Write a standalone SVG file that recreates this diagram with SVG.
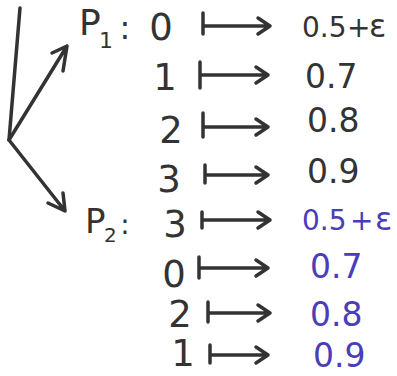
<svg xmlns="http://www.w3.org/2000/svg" width="397" height="376" viewBox="0 0 397 376">
<style>
.ln{fill:none;stroke:#333;stroke-width:3.5;stroke-linecap:round;stroke-linejoin:round}
.t{font-family:"DejaVu Sans","Liberation Sans",sans-serif;fill:#333}
.d{font-size:37px;text-anchor:middle}
.v{font-size:33px}
.s{font-size:28px}
.e{font-size:32px}
.p{fill:#4a3db8}
</style>
<rect width="397" height="376" fill="#fff"/>
<g id="connectors">
<path class="ln" d="M20 8 L9 140"/>
<path class="ln" d="M9 140 L67 46 M52 53 L67 46 L63 71"/>
<path class="ln" d="M9 140 L65 211 M48 203 L65 211 L63 193"/>
<path class="ln" d="M203 13 V34 M203 26 H270 M258 18 L270 26 L258 34"/>
<path class="ln" d="M200 62 V88 M200 75 H268 M256 67 L268 75 L256 83"/>
<path class="ln" d="M203 113 V137 M203 127 H268 M256 119 L268 127 L256 135"/>
<path class="ln" d="M205 165 V183 M205 175 H268 M256 167 L268 175 L256 183"/>
<path class="ln" d="M202 212 V228 M202 220 H270 M258 212 L270 220 L258 228"/>
<path class="ln" d="M199 257 V278 M199 268 H268 M256 260 L268 268 L256 276"/>
<path class="ln" d="M208 302 V322 M208 313 H270 M258 305 L270 313 L258 321"/>
<path class="ln" d="M210 345 V363 M210 355 H268 M256 347 L268 355 L256 363"/>
</g>
<g id="P1" class="t"><text x="79" y="35" font-size="36">P</text><text x="99" y="48" font-size="22">1</text><text x="125" y="39" font-size="32" text-anchor="middle">:</text></g>
<g id="P2" class="t"><text x="85" y="233" font-size="34">P</text><text x="104" y="242" font-size="20">2</text><text x="125" y="234" font-size="28" text-anchor="middle">:</text></g>
<g id="k1" class="t d"><text x="161" y="40">0</text></g>
<g id="k2" class="t d"><text x="165" y="90">1</text></g>
<g id="k3" class="t d"><text x="171" y="143">2</text></g>
<g id="k4" class="t d"><text x="169" y="192">3</text></g>
<g id="k5" class="t d"><text x="175" y="237">3</text></g>
<g id="k6" class="t d"><text x="174" y="287">0</text></g>
<g id="k7" class="t d"><text x="180" y="327">2</text></g>
<g id="k8" class="t d"><text x="183" y="366">1</text></g>
<g id="v1" class="t s"><text y="37"><tspan x="302">0.5</tspan><tspan x="347">+</tspan><tspan x="369" class="e">ε</tspan></text></g>
<g id="v2" class="t v"><text x="305" y="88">0.7</text></g>
<g id="v3" class="t v"><text x="307" y="132">0.8</text></g>
<g id="v4" class="t v"><text x="307" y="183">0.9</text></g>
<g id="v5" class="t s p"><text y="230"><tspan x="302">0.5</tspan><tspan x="350">+</tspan><tspan x="375" class="e">ε</tspan></text></g>
<g id="v6" class="t v p"><text x="310" y="278">0.7</text></g>
<g id="v7" class="t v p"><text x="310" y="326">0.8</text></g>
<g id="v8" class="t v p"><text x="313" y="367">0.9</text></g>
</svg>
